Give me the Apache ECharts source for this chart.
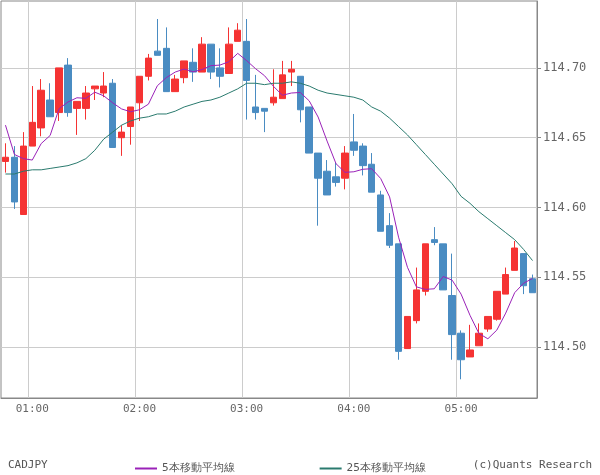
<!DOCTYPE html>
<html><head><meta charset="utf-8">
<script src="https://cdn.jsdelivr.net/npm/echarts@6/dist/echarts.min.js"></script>
<style>html,body{margin:0;padding:0;background:#fff}#c{width:600px;height:475px}</style>
</head><body><div id="c"></div>
<script>
// OHLC
const opens  = [114.633,114.636,114.595,114.644,114.657,114.677,114.668,114.702,114.671,114.671,114.685,114.682,114.689,114.650,114.658,114.675,114.694,114.712,114.714,114.683,114.693,114.704,114.697,114.717,114.700,114.696,114.719,114.719,114.672,114.671,114.675,114.678,114.697,114.694,114.672,114.639,114.626,114.622,114.621,114.647,114.644,114.631,114.609,114.587,114.574,114.499,114.519,114.540,114.577,114.574,114.537,114.510,114.493,114.501,114.513,114.520,114.538,114.555,114.567,114.549];
const closes = [114.636,114.604,114.644,114.661,114.684,114.665,114.700,114.668,114.676,114.682,114.687,114.687,114.643,114.654,114.672,114.694,114.707,114.709,114.683,114.692,114.705,114.697,114.717,114.697,114.694,114.717,114.727,114.691,114.668,114.669,114.679,114.695,114.699,114.670,114.639,114.621,114.609,114.618,114.639,114.641,114.630,114.611,114.583,114.573,114.497,114.522,114.541,114.574,114.575,114.541,114.509,114.491,114.498,114.510,114.522,114.540,114.552,114.571,114.544,114.539];
const highs  = [114.646,114.644,114.654,114.687,114.692,114.689,114.700,114.707,114.676,114.687,114.687,114.697,114.692,114.659,114.672,114.694,114.710,114.735,114.729,114.695,114.705,114.714,114.722,114.717,114.714,114.729,114.732,114.735,114.695,114.671,114.699,114.705,114.705,114.694,114.672,114.639,114.634,114.632,114.644,114.667,114.646,114.639,114.612,114.596,114.574,114.522,114.557,114.574,114.586,114.574,114.567,114.512,114.516,114.517,114.522,114.540,114.557,114.576,114.567,114.552];
const lows   = [114.625,114.599,114.595,114.644,114.651,114.665,114.662,114.665,114.652,114.663,114.677,114.679,114.643,114.637,114.645,114.662,114.691,114.709,114.683,114.683,114.689,114.690,114.697,114.692,114.686,114.696,114.719,114.663,114.663,114.654,114.673,114.678,114.687,114.661,114.639,114.587,114.609,114.615,114.613,114.637,114.623,114.611,114.583,114.571,114.491,114.499,114.517,114.537,114.573,114.541,114.491,114.477,114.493,114.501,114.511,114.519,114.538,114.555,114.538,114.539];
const ma5Head = [114.659,114.638,114.635,114.634];
const ma25 = [114.624,114.624,114.626,114.627,114.627,114.628,114.629,114.630,114.632,114.635,114.641,114.649,114.654,114.659,114.662,114.664,114.665,114.667,114.667,114.669,114.672,114.674,114.676,114.677,114.679,114.682,114.685,114.689,114.689,114.688,114.689,114.689,114.690,114.689,114.687,114.684,114.682,114.681,114.680,114.679,114.677,114.672,114.669,114.664,114.658,114.652,114.645,114.638,114.631,114.624,114.617,114.608,114.603,114.597,114.592,114.587,114.582,114.577,114.570,114.562];
const yTicks = [114.50,114.55,114.60,114.65,114.70];

const cats = [];
for (let i=0;i<closes.length;i++){const m=45+5*i;const h=Math.floor(m/60),mm=m%60;cats.push(String(h).padStart(2,'0')+':'+String(mm).padStart(2,'0'));}
const ma5 = closes.map((c,i)=> i<4 ? ma5Head[i] : +( (closes[i]+closes[i-1]+closes[i-2]+closes[i-3]+closes[i-4])/5 ).toFixed(4));
const kdata = closes.map((c,i)=>[opens[i],c,lows[i],highs[i]]);
const isHour = i => cats[i].endsWith(':00');
const F = '"DejaVu Sans Mono", monospace';

const chart = echarts.init(document.getElementById('c'));
chart.setOption({
  animation:false,
  grid:{left:1,right:63,top:1,bottom:77,show:true,borderColor:'#888',borderWidth:1},
  xAxis:{type:'category',data:cats,boundaryGap:true,
    axisLine:{lineStyle:{color:'#888'}},
    axisTick:{alignWithLabel:true,interval:(i)=>isHour(i),lineStyle:{color:'#888'},length:4},
    axisLabel:{interval:(i)=>isHour(i),color:'#666',fontFamily:F,fontSize:11,margin:6},
    splitLine:{show:true,interval:(i)=>isHour(i),lineStyle:{color:'#ccc'}}},
  yAxis:{type:'value',position:'right',min:114.4636,max:114.7479,scale:true,
    axisLine:{show:true,lineStyle:{color:'#888'}},
    axisTick:{show:true,customValues:yTicks,lineStyle:{color:'#888'},length:4},
    axisLabel:{customValues:yTicks,formatter:v=>v.toFixed(2),color:'#666',fontFamily:F,fontSize:12,margin:6},
    splitLine:{show:true,lineStyle:{color:'#ccc'}}},
  legend:{left:130,top:458,itemGap:85,itemWidth:22,itemHeight:2,icon:'rect',
    textStyle:{color:'#555',fontFamily:F,fontSize:11},
    data:[{name:'5本移動平均線',itemStyle:{color:'#9a22b8'}},{name:'25本移動平均線',itemStyle:{color:'#2a7a6e'}}]},
  graphic:[
    {type:'text',left:8,top:460,style:{text:'CADJPY',fill:'#555',font:'11px '+F}},
    {type:'text',right:8,top:460,style:{text:'(c)Quants Research',fill:'#555',font:'11px '+F}}
  ],
  series:[
    {type:'candlestick',data:kdata,barWidth:7,
      itemStyle:{color:'#f53333',color0:'#4a8cc2',borderColor:'#f53333',borderColor0:'#4a8cc2',borderWidth:1}},
    {name:'5本移動平均線',type:'line',data:ma5,symbol:'none',lineStyle:{color:'#9a22b8',width:1}},
    {name:'25本移動平均線',type:'line',data:ma25,symbol:'none',lineStyle:{color:'#2a7a6e',width:1}}
  ]
});
</script></body></html>
